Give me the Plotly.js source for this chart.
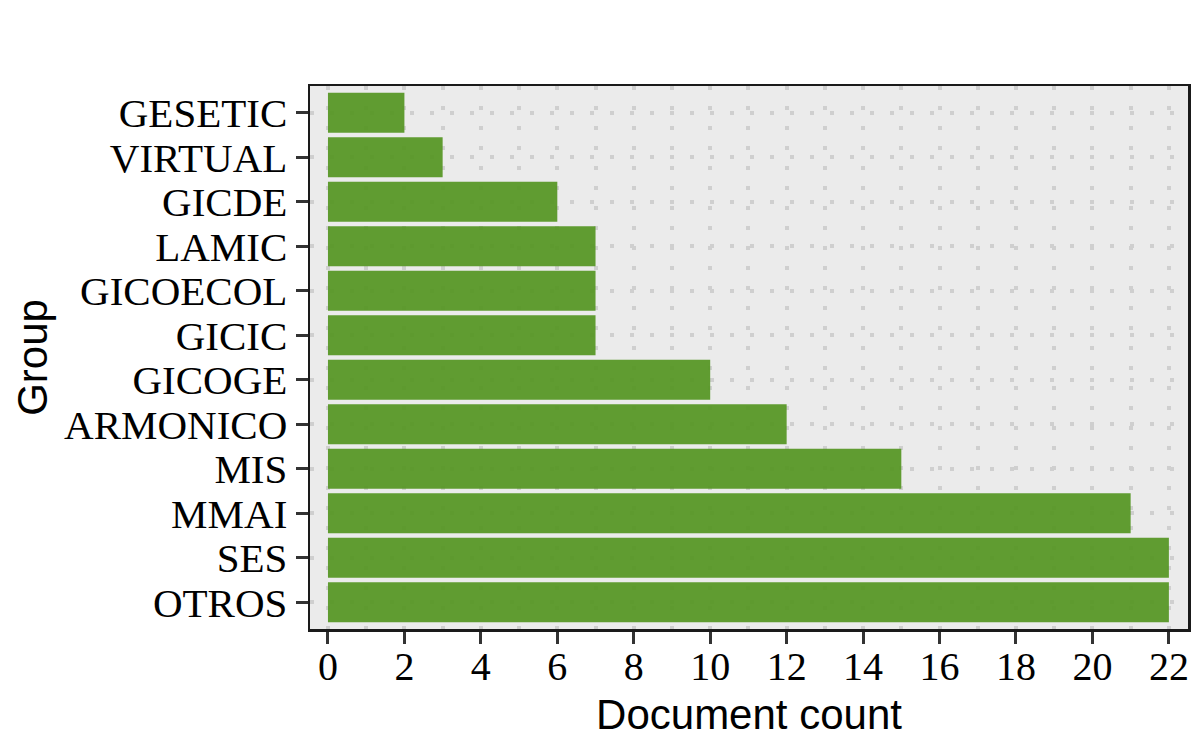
<!DOCTYPE html>
<html>
<head>
<meta charset="utf-8">
<script src="https://cdn.plot.ly/plotly-3.0.1.min.js"></script>
<style>html,body{margin:0;padding:0;background:#fff;}#chart{width:1200px;height:750px;}</style>
</head>
<body>
<div id="chart"></div>
<script>
const groups = ["GESETIC","VIRTUAL","GICDE","LAMIC","GICOECOL","GICIC","GICOGE","ARMONICO","MIS","MMAI","SES","OTROS"];
const counts = [2,3,6,7,7,7,10,12,15,21,22,22];
const xTicks = [0,2,4,6,8,10,12,14,16,18,20,22];

const trace = {
  type: 'bar',
  orientation: 'h',
  y: groups,
  x: counts,
  width: 0.9,
  marker: {color: 'rgba(81,147,29,0.9)', line: {width: 0}},
  hoverinfo: 'x+y'
};

const gridStyle = {color: '#cfcfcf', width: 4, dash: '4px,16px'};

const layout = {
  width: 1200, height: 750,
  paper_bgcolor: '#ffffff',
  plot_bgcolor: '#ebebeb',
  margin: {l: 310, r: 12, t: 86, b: 121},
  showlegend: false,
  bargap: 0.1,
  xaxis: {
    range: [-0.47, 22.5],
    tickmode: 'array',
    tickvals: xTicks,
    ticktext: xTicks.map(String),
    ticks: 'outside', ticklen: 12, tickwidth: 3, tickcolor: '#333333',
    ticklabelstandoff: -12,
    tickfont: {family: 'Liberation Serif, Times New Roman, serif', size: 40, color: '#000'},
    showgrid: true, gridcolor: gridStyle.color, gridwidth: gridStyle.width, griddash: gridStyle.dash,
    minor: {dtick: 1, tick0: 0, showgrid: true, gridcolor: gridStyle.color, gridwidth: gridStyle.width, griddash: gridStyle.dash, ticks: ''},
    showline: true, mirror: true, linecolor: '#1a1a1a', linewidth: 2.5,
    zeroline: false,
    title: {text: 'Document count', font: {family: 'Liberation Sans, Arial, sans-serif', size: 42, color: '#000'}, standoff: 12}
  },
  yaxis: {
    type: 'category',
    categoryorder: 'array', categoryarray: groups,
    tickmode: 'array', tickvals: groups, ticktext: groups,
    range: [11.6, -0.6],
    ticks: 'outside', ticklen: 12, tickwidth: 3, tickcolor: '#333333',
    tickfont: {family: 'Liberation Serif, Times New Roman, serif', size: 41, color: '#000'},
    showgrid: true, gridcolor: gridStyle.color, gridwidth: gridStyle.width, griddash: gridStyle.dash,
    showline: true, mirror: true, linecolor: '#1a1a1a', linewidth: 2.5,
    zeroline: false,
    title: {text: 'Group', font: {family: 'Liberation Sans, Arial, sans-serif', size: 42, color: '#000'}, standoff: 4}
  }
};

Plotly.newPlot('chart', [trace], layout, {displayModeBar: false, staticPlot: true});
</script>
</body>
</html>
